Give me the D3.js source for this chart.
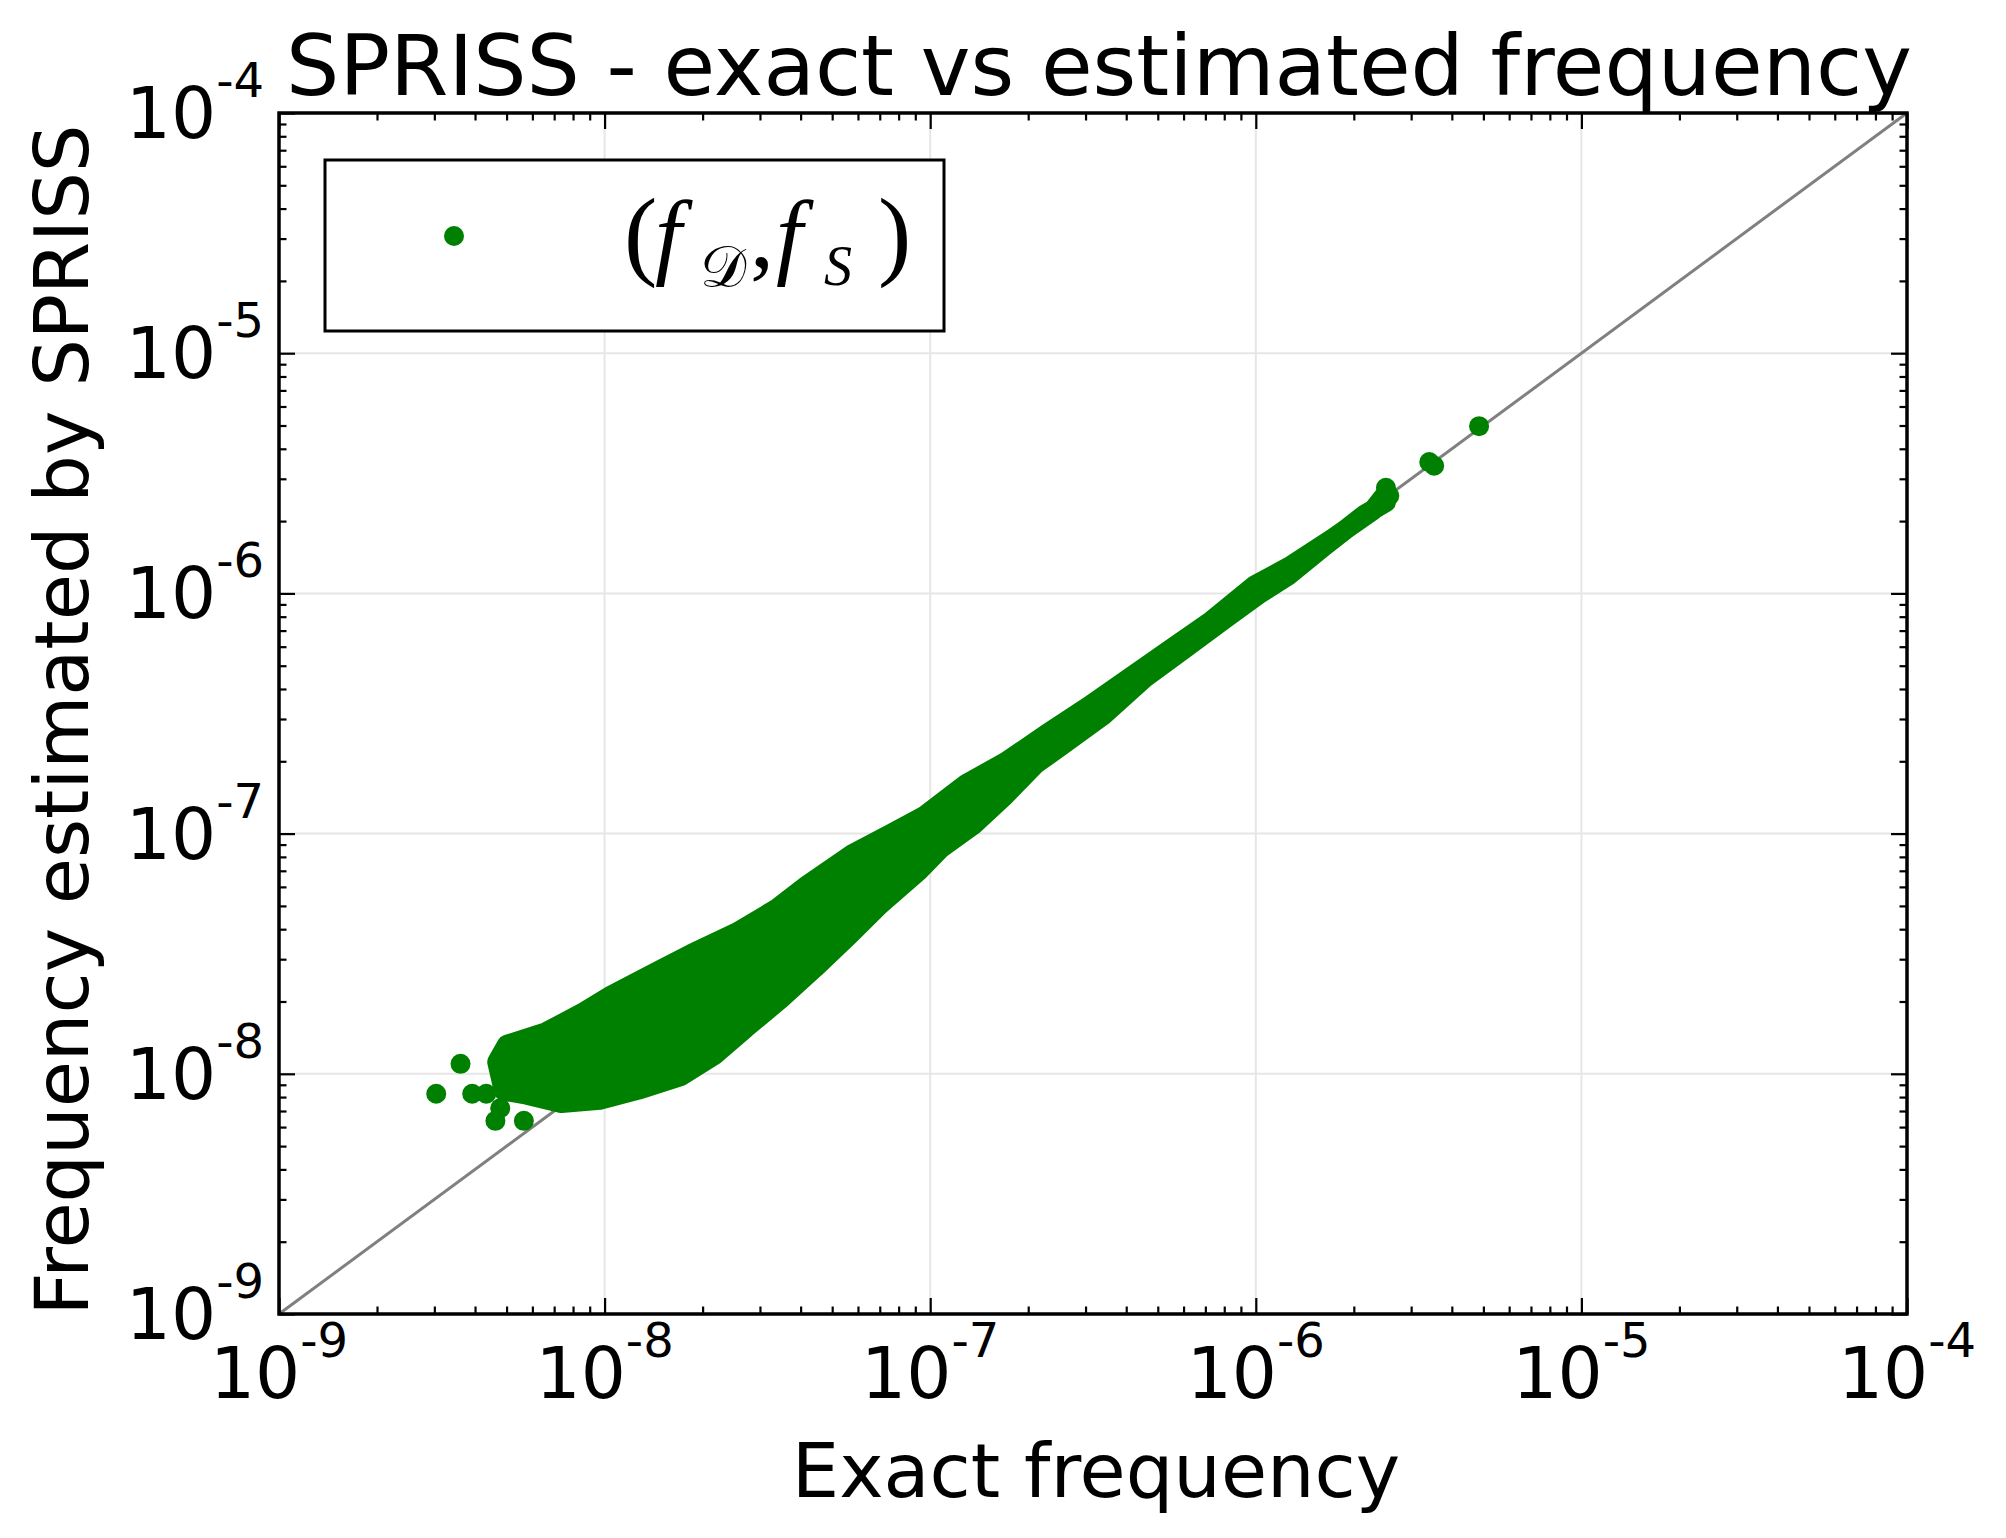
<!DOCTYPE html>
<html>
<head>
<meta charset="utf-8">
<script src="https://cdn.jsdelivr.net/npm/d3@7/dist/d3.min.js"></script>
<style>
  html, body { margin: 0; padding: 0; background: #ffffff; }
  svg { display: block; }
</style>
</head>
<body>
<svg id="chart" width="2006" height="1538"></svg>
<script>
// ---------------- DATA ----------------
const titleText = "SPRISS - exact vs estimated frequency";
const xLabelText = "Exact frequency";
const yLabelText = "Frequency estimated by SPRISS";
const axisDomain = [1e-9, 1e-4];
const decadeTicks = [1e-9, 1e-8, 1e-7, 1e-6, 1e-5, 1e-4];
const decadeTickLabels = ["-9", "-8", "-7", "-6", "-5", "-4"];
const gridTicks = [1e-8, 1e-7, 1e-6, 1e-5];
const seriesName = "(f_D, f_S)";

// Dense cloud of (exact, estimated) pairs: upper boundary of marker centres
const cloudTopExact = [4.68e-9, 5.01e-9, 6.61e-9, 8.67e-9, 1.05e-8, 1.41e-8, 1.85e-8, 2.56e-8, 3.37e-8, 4.19e-8,
  5.79e-8, 7.60e-8, 9.64e-8, 1.29e-7, 1.71e-7, 2.29e-7, 3.05e-7, 4.07e-7, 5.43e-7, 7.24e-7,
  9.93e-7, 1.29e-6, 1.72e-6, 2.29e-6, 2.51e-6];
const cloudTopEstimated = [1.12e-8, 1.32e-8, 1.49e-8, 1.81e-8, 2.12e-8, 2.61e-8, 3.16e-8, 3.89e-8, 4.86e-8, 6.10e-8,
  8.24e-8, 1.00e-7, 1.19e-7, 1.61e-7, 1.99e-7, 2.61e-7, 3.37e-7, 4.43e-7, 5.81e-7, 7.62e-7,
  1.08e-6, 1.31e-6, 1.69e-6, 2.22e-6, 2.60e-6];
// lower boundary of marker centres (from high to low exact frequency)
const cloudBottomExact = [2.51e-6, 2.16e-6, 1.62e-6, 1.25e-6, 1.02e-6, 8.13e-7, 6.10e-7, 4.57e-7, 3.42e-7, 2.56e-7,
  2.10e-7, 1.67e-7, 1.36e-7, 1.08e-7, 9.20e-8, 7.01e-8, 5.65e-8, 4.42e-8, 3.46e-8, 2.71e-8,
  2.18e-8, 1.71e-8, 1.27e-8, 9.66e-9, 7.36e-9, 5.77e-9, 4.90e-9];
const cloudBottomEstimated = [2.40e-6, 2.13e-6, 1.57e-6, 1.18e-6, 9.91e-7, 7.93e-7, 5.94e-7, 4.46e-7, 3.13e-7, 2.35e-7,
  1.94e-7, 1.41e-7, 1.09e-7, 8.71e-8, 6.97e-8, 5.06e-8, 3.79e-8, 2.76e-8, 2.04e-8, 1.55e-8,
  1.20e-8, 9.77e-9, 8.59e-9, 7.80e-9, 7.55e-9, 8.18e-9, 8.51e-9];

// Isolated points
const pointExact = [3.04e-9, 3.61e-9, 3.92e-9, 4.33e-9, 4.62e-9, 5.65e-9, 4.78e-9,
  2.51e-6, 2.57e-6, 3.41e-6, 3.53e-6, 4.85e-6];
const pointEstimated = [8.26e-9, 1.10e-8, 8.26e-9, 8.26e-9, 6.37e-9, 6.37e-9, 7.19e-9,
  2.75e-6, 2.55e-6, 3.52e-6, 3.40e-6, 4.97e-6];

// ---------------- LAYOUT ----------------
const svg = d3.select("#chart");
const L = 279, R = 1907, T = 113, B = 1314;
const green = "#008000";
const markerR = 10;

const x = d3.scaleLog().domain(axisDomain).range([L, R]);
const y = d3.scaleLog().domain(axisDomain).range([B, T]);

svg.append("rect").attr("width", 2006).attr("height", 1538).attr("fill", "#fff");

// grid
const grid = svg.append("g");
grid.selectAll(".gx").data(gridTicks).enter().append("line")
  .attr("x1", d => x(d)).attr("x2", d => x(d)).attr("y1", T).attr("y2", B)
  .attr("stroke", "#e6e6e6").attr("stroke-width", 2);
grid.selectAll(".gy").data(gridTicks).enter().append("line")
  .attr("y1", d => y(d)).attr("y2", d => y(d)).attr("x1", L).attr("x2", R)
  .attr("stroke", "#e6e6e6").attr("stroke-width", 2);

// diagonal y = x
svg.append("line")
  .attr("x1", x(axisDomain[0])).attr("y1", y(axisDomain[0]))
  .attr("x2", x(axisDomain[1])).attr("y2", y(axisDomain[1]))
  .attr("stroke", "#808080").attr("stroke-width", 3);

// dense cloud
const cloud = cloudTopExact.map((v, i) => [v, cloudTopEstimated[i]])
  .concat(cloudBottomExact.map((v, i) => [v, cloudBottomEstimated[i]]));
const cloudLine = d3.line().x(d => x(d[0])).y(d => y(d[1])).curve(d3.curveLinearClosed);
svg.append("path")
  .attr("d", cloudLine(cloud))
  .attr("fill", green).attr("stroke", green)
  .attr("stroke-width", markerR * 2).attr("stroke-linejoin", "round");

// isolated points
svg.append("g").selectAll("circle")
  .data(pointExact.map((v, i) => [v, pointEstimated[i]]))
  .enter().append("circle")
  .attr("cx", d => x(d[0])).attr("cy", d => y(d[1])).attr("r", markerR)
  .attr("fill", green);

// ticks on all four sides, pointing inwards
const minorTicks = x.ticks().filter(v => decadeTicks.indexOf(v) < 0);
function addTicks(axisFn, vals, size, transform) {
  const g = svg.append("g").attr("transform", transform)
    .call(axisFn.tickValues(vals).tickSize(-size).tickSizeOuter(0).tickFormat(""));
  g.select(".domain").remove();
  g.selectAll("line").attr("stroke", "#000").attr("stroke-width", 2.2);
}
[[minorTicks, 7.5], [decadeTicks, 16]].forEach(([vals, size]) => {
  addTicks(d3.axisBottom(x), vals, size, `translate(0,${B})`);
  addTicks(d3.axisTop(x), vals, size, `translate(0,${T})`);
  addTicks(d3.axisLeft(y), vals, size, `translate(${L},0)`);
  addTicks(d3.axisRight(y), vals, size, `translate(${R},0)`);
});

// frame
svg.append("rect").attr("x", L).attr("y", T).attr("width", R - L).attr("height", B - T)
  .attr("fill", "none").attr("stroke", "#000").attr("stroke-width", 3.5);

// tick labels
const font = "DejaVu Sans, Noto Sans, sans-serif";
function powerLabel(sel) {
  sel.append("tspan").attr("font-size", 71).text("10");
  sel.append("tspan").attr("font-size", 48).attr("dy", -41).text((d, i) => decadeTickLabels[i]);
}
svg.append("g").selectAll("text").data(decadeTicks).enter().append("text")
  .attr("x", d => x(d)).attr("y", B + 84)
  .attr("text-anchor", "middle").attr("font-family", font).attr("fill", "#000")
  .call(powerLabel);
svg.append("g").selectAll("text").data(decadeTicks).enter().append("text")
  .attr("x", L - 15).attr("y", d => y(d) + 25)
  .attr("text-anchor", "end").attr("font-family", font).attr("fill", "#000")
  .call(powerLabel);

// title and axis labels
svg.append("text").attr("x", 1099).attr("y", 95).attr("text-anchor", "middle")
  .attr("font-family", font).attr("font-size", 84).text(titleText);
svg.append("text").attr("x", 1096).attr("y", 1497).attr("text-anchor", "middle")
  .attr("font-family", font).attr("font-size", 75).text(xLabelText);
svg.append("text").attr("transform", "translate(88,720) rotate(-90)").attr("text-anchor", "middle")
  .attr("font-family", font).attr("font-size", 75).text(yLabelText);

// legend
const lg = svg.append("g");
lg.append("rect").attr("x", 325).attr("y", 160).attr("width", 619).attr("height", 171)
  .attr("fill", "#fff").attr("stroke", "#000").attr("stroke-width", 3);
lg.append("circle").attr("cx", 454).attr("cy", 236).attr("r", markerR).attr("fill", green);
const serif = "Liberation Serif, DejaVu Serif, serif";
const lt = lg.append("text").attr("y", 267).attr("font-family", serif).attr("fill", "#000");
const parts = [
  { t: "(", x: 624, s: 100, st: "normal", dy: 0 },
  { t: "f", x: 655, s: 96, st: "italic", dy: 0 },
  { t: "\u{1D49F}", x: 700, s: 58, st: "normal", dy: 20 },
  { t: ",", x: 750, s: 96, st: "normal", dy: -20 },
  { t: "f", x: 776, s: 96, st: "italic", dy: 0 },
  { t: "S", x: 824, s: 56, st: "italic", dy: 18 },
  { t: ")", x: 878, s: 100, st: "normal", dy: -18 }
];
parts.forEach(p => {
  lt.append("tspan").attr("x", p.x).attr("dy", p.dy).attr("font-size", p.s)
    .attr("font-style", p.st).text(p.t);
});
</script>
</body>
</html>
